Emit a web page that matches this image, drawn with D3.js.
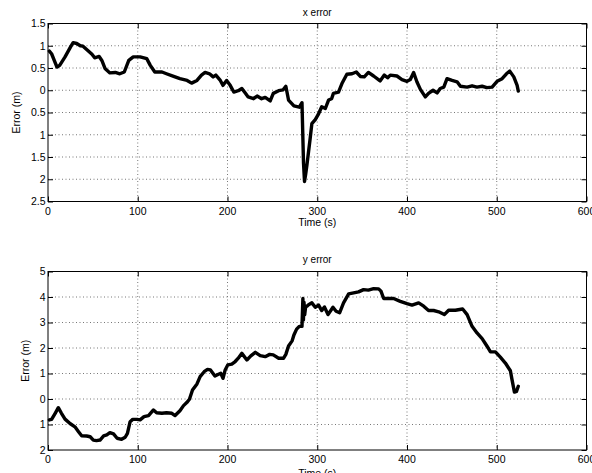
<!DOCTYPE html>
<html>
<head>
<meta charset="utf-8">
<script src="https://cdn.jsdelivr.net/npm/d3@7"></script>
<style>
  html, body { margin: 0; padding: 0; background: #fff; }
  svg { display: block; }
  text { font-family: "Liberation Sans", Arial, Helvetica, sans-serif; fill: #000; }
</style>
</head>
<body>
<svg id="chart" width="592" height="473"></svg>
<script>
// ---------------- data ----------------
const xTicks = [0, 100, 200, 300, 400, 500, 600];
const xTickLabels = ["0", "100", "200", "300", "400", "500", "600"];

const y1Ticks = [1.5, 1, 0.5, 0, -0.5, -1, -1.5, -2, -2.5];
const y1TickLabels = ["1.5", "1", "0.5", "0", "0.5", "1", "1.5", "2", "2.5"];

const y2Ticks = [5, 4, 3, 2, 1, 0, -1, -2];
const y2TickLabels = ["5", "4", "3", "2", "1", "0", "1", "2"];

const titles = ["x error", "y error"];
const xLabel = "Time (s)";
const yLabel = "Error (m)";

// x error: [time (s), error (m)]
const xError = [[1.5,0.88],[4,0.82],[10,0.52],[13,0.56],[19,0.75],[25,0.97],[28,1.07],[32,1.05],[36,1.0],[39,0.99],[44,0.9],[49,0.81],[52,0.73],[57,0.76],[60,0.67],[63.5,0.49],[69,0.39],[75,0.40],[80,0.37],[85,0.41],[90,0.67],[95,0.75],[102.6,0.75],[110,0.71],[114,0.56],[119,0.41],[127,0.41],[132,0.37],[140,0.31],[147,0.26],[155,0.22],[160,0.16],[166,0.22],[171,0.34],[175,0.40],[180,0.37],[184,0.30],[187,0.34],[192,0.22],[195,0.11],[199,0.22],[203,0.11],[207,-0.04],[212,-0.01],[216,0.04],[220,-0.07],[223,-0.15],[229,-0.19],[233,-0.13],[238,-0.19],[242,-0.16],[247.6,-0.24],[251,-0.07],[257,-0.01],[262,0.01],[265,0.09],[268,-0.22],[274,-0.35],[280,-0.38],[283,-0.28],[284.7,-1.64],[285.8,-2.05],[287,-1.9],[288.5,-1.68],[292,-1.1],[294,-0.75],[297.8,-0.66],[301,-0.55],[305,-0.37],[309,-0.41],[312.6,-0.22],[316,-0.19],[318,-0.07],[323.7,-0.04],[327.5,0.15],[333,0.36],[338.7,0.37],[343.5,0.41],[348,0.31],[352.4,0.30],[357,0.40],[362.8,0.32],[370,0.21],[374.7,0.34],[378.4,0.28],[381.4,0.34],[388.8,0.32],[394.4,0.24],[400,0.20],[403.7,0.24],[407.4,0.40],[411,0.19],[414.9,0.02],[420.4,-0.15],[424,-0.07],[429,0.0],[433.5,-0.06],[437,0.04],[441,0.07],[444.6,0.26],[450.2,0.22],[455.8,0.19],[459.5,0.09],[467,0.07],[472.5,0.10],[478,0.07],[483.7,0.09],[489,0.06],[494.8,0.07],[500.4,0.20],[506,0.26],[510.8,0.37],[514.5,0.43],[519,0.30],[522.7,0.11],[524,-0.02]];

// y error: [time (s), error (m)]
const yError = [[1.5,-0.82],[4,-0.80],[8,-0.56],[11.5,-0.34],[15,-0.56],[19,-0.79],[24.5,-0.96],[30,-1.09],[34,-1.28],[37.5,-1.44],[43,-1.45],[47,-1.48],[50.5,-1.61],[54,-1.63],[58,-1.61],[62,-1.45],[65.5,-1.41],[69,-1.32],[73,-1.37],[77,-1.54],[82,-1.58],[86,-1.5],[88.5,-1.35],[91.5,-0.89],[94.4,-0.8],[99,-0.8],[102.6,-0.82],[107,-0.69],[112,-0.65],[117.5,-0.43],[121,-0.54],[127,-0.56],[132,-0.54],[138,-0.56],[141.6,-0.65],[147,-0.46],[151,-0.26],[154.6,-0.14],[157.6,-0.01],[161,0.35],[166,0.59],[169.5,0.88],[174,1.07],[177.7,1.16],[181,1.14],[186,0.90],[190,0.97],[192.5,1.01],[195,0.81],[197.4,1.14],[200.4,1.34],[204.8,1.37],[208.6,1.47],[212,1.60],[216,1.79],[221.6,1.53],[226,1.69],[231,1.83],[236.4,1.70],[242,1.66],[247,1.75],[251,1.73],[257,1.60],[262.5,1.60],[265,1.75],[268,2.08],[272,2.28],[274,2.51],[277,2.74],[280,2.85],[283,2.85],[284,3.94],[284.6,3.1],[285.2,3.8],[286,3.3],[287,3.6],[288.5,3.64],[290.3,3.70],[294,3.77],[297.8,3.6],[301.5,3.68],[305,3.47],[308,3.61],[312,3.31],[317.5,3.6],[321,3.44],[324.9,3.38],[329.3,3.77],[335,4.12],[340.5,4.16],[346,4.2],[351.6,4.29],[357,4.27],[362.8,4.33],[368.4,4.32],[371,4.23],[374,3.94],[378.4,3.94],[385,3.94],[392.5,3.83],[400,3.74],[405.6,3.68],[413,3.77],[418.6,3.64],[424,3.47],[429.7,3.47],[435.3,3.42],[441.6,3.31],[446.4,3.48],[453.9,3.48],[462,3.53],[467,3.31],[472.5,2.85],[478,2.59],[483.7,2.37],[489.2,2.07],[493,1.85],[498.5,1.85],[504,1.64],[509.6,1.41],[515.2,1.11],[517,0.76],[519.7,0.27],[522,0.30],[524,0.50]];

// ---------------- drawing ----------------
const svg = d3.select("#chart");

const panels = [
  { data: xError, yDomain: [-2.5, 1.5], yTicks: y1Ticks, yLabels: y1TickLabels, title: titles[0],
    top: 23.5, bottom: 201.5, titleY: 16, tickY: 215, xlabY: 226, ylabX: 20 },
  { data: yError, yDomain: [-2, 5], yTicks: y2Ticks, yLabels: y2TickLabels, title: titles[1],
    top: 271.5, bottom: 450, titleY: 263, tickY: 463, xlabY: 477, ylabX: 29 }
];

const left = 48, right = 586.5;

panels.forEach(p => {
  const x = d3.scaleLinear().domain([0, 600]).range([left, right]);
  const y = d3.scaleLinear().domain(p.yDomain).range([p.bottom, p.top]);
  const g = svg.append("g");

  // grid (dotted)
  g.append("g").selectAll("line.gx")
    .data(xTicks.slice(1, -1)).join("line")
    .attr("x1", d => x(d)).attr("x2", d => x(d))
    .attr("y1", p.top).attr("y2", p.bottom)
    .attr("stroke", "#777").attr("stroke-width", 1).attr("stroke-dasharray", "1,2.5");
  g.append("g").selectAll("line.gy")
    .data(p.yTicks.slice(1, -1)).join("line")
    .attr("x1", left).attr("x2", right)
    .attr("y1", d => y(d)).attr("y2", d => y(d))
    .attr("stroke", "#777").attr("stroke-width", 1).attr("stroke-dasharray", "1,2.5");

  // inward tick marks (all four sides)
  const tl = 5;
  const bottomAxis = d3.axisBottom(x).tickValues(xTicks).tickSize(-tl).tickFormat("");
  const topAxis = d3.axisTop(x).tickValues(xTicks).tickSize(-tl).tickFormat("");
  const leftAxis = d3.axisLeft(y).tickValues(p.yTicks).tickSize(-tl).tickFormat("");
  const rightAxis = d3.axisRight(y).tickValues(p.yTicks).tickSize(-tl).tickFormat("");
  [[bottomAxis, `translate(0,${p.bottom})`], [topAxis, `translate(0,${p.top})`],
   [leftAxis, `translate(${left},0)`], [rightAxis, `translate(${right},0)`]].forEach(([ax, tr]) => {
    const a = g.append("g").attr("transform", tr).call(ax);
    a.select(".domain").remove();
    a.selectAll("line").attr("stroke", "#000");
  });

  // data line
  const line = d3.line().x(d => x(d[0])).y(d => y(d[1])).curve(d3.curveLinear);
  g.append("path").datum(p.data)
    .attr("d", line)
    .attr("fill", "none").attr("stroke", "#000")
    .attr("stroke-width", 3.4).attr("stroke-linejoin", "round").attr("stroke-linecap", "round");

  // box
  g.append("rect").attr("x", left).attr("y", p.top)
    .attr("width", right - left).attr("height", p.bottom - p.top)
    .attr("fill", "none").attr("stroke", "#000").attr("stroke-width", 1);

  // tick labels
  g.append("g").selectAll("text").data(xTicks).join("text")
    .attr("x", d => x(d)).attr("y", p.tickY)
    .attr("text-anchor", "middle").attr("font-size", 10.5)
    .text((d, i) => xTickLabels[i]);
  g.append("g").selectAll("text").data(p.yTicks).join("text")
    .attr("x", left - 2.5).attr("y", d => y(d) + 3.8)
    .attr("text-anchor", "end").attr("font-size", 10.5)
    .text((d, i) => p.yLabels[i]);

  // titles and labels
  g.append("text").attr("x", (left + right) / 2).attr("y", p.titleY)
    .attr("text-anchor", "middle").attr("font-size", 10).text(p.title);
  g.append("text").attr("x", (left + right) / 2).attr("y", p.xlabY)
    .attr("text-anchor", "middle").attr("font-size", 10.5).text(xLabel);
  g.append("text")
    .attr("transform", `translate(${p.ylabX},${(p.top + p.bottom) / 2}) rotate(-90)`)
    .attr("text-anchor", "middle").attr("font-size", 10.5).text(yLabel);
});
</script>
</body>
</html>
